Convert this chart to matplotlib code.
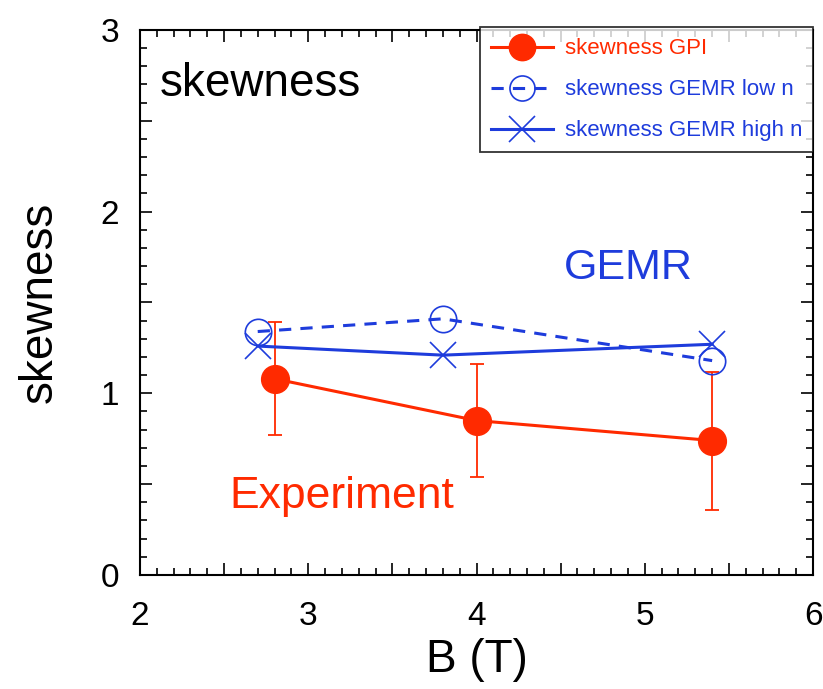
import matplotlib
matplotlib.use('Agg')
import matplotlib.pyplot as plt
from matplotlib.ticker import MultipleLocator, FuncFormatter

plt.rcParams['font.family'] = ['Liberation Sans', 'DejaVu Sans']

# data
B_gpi = [2.8, 4.0, 5.4]
skew_gpi = [1.08, 0.85, 0.74]
err_gpi = [0.31, 0.31, 0.38]

B_gemr = [2.7, 3.8, 5.4]
skew_low_n = [1.34, 1.41, 1.18]
skew_high_n = [1.26, 1.21, 1.27]

red = '#ff2a00'
blue = '#1e3cdc'

fig = plt.figure(figsize=(8.23, 6.89), dpi=100)
ax = fig.add_axes([0.170, 0.1655, 0.818, 0.791])

h1 = ax.errorbar(B_gpi, skew_gpi, yerr=err_gpi, color=red, lw=2.2, marker='o',
                 ms=20, mfc=red, mec=red, ecolor=red, elinewidth=1.3, capsize=5,
                 capthick=1.3, label='skewness GPI', zorder=3)
h2, = ax.plot(B_gemr, skew_low_n, color=blue, lw=2.2, ls=(0, (4, 3)), marker='o',
              ms=19, mfc='none', mec=blue, mew=1.2, label='skewness GEMR low n', zorder=4)
h3, = ax.plot(B_gemr, skew_high_n, color=blue, lw=2.2, marker='x', ms=19, mew=1.2,
              label='skewness GEMR high n', zorder=4)

ax.set_xlim(2, 6)
ax.set_ylim(0, 3)
ax.xaxis.set_major_locator(MultipleLocator(0.5))
ax.yaxis.set_major_locator(MultipleLocator(0.5))
ax.xaxis.set_minor_locator(MultipleLocator(0.1))
ax.yaxis.set_minor_locator(MultipleLocator(0.1))
fmt = FuncFormatter(lambda v, p: '%d' % v if abs(v - round(v)) < 1e-6 else '')
ax.xaxis.set_major_formatter(fmt)
ax.yaxis.set_major_formatter(fmt)
ax.tick_params(which='both', direction='in', top=True, right=True, width=1.2,
               labelsize=24)
ax.tick_params(axis='x', which='major', pad=19)
ax.tick_params(axis='y', which='major', pad=15)
ax.tick_params(which='major', length=8.5)
ax.tick_params(which='minor', length=5)
for s in ax.spines.values():
    s.set_linewidth(1.5)

ax.set_xlabel('B (T)', fontsize=33, labelpad=4)
ax.set_ylabel('skewness', fontsize=33, labelpad=28)

ax.text(2.12, 2.7, 'skewness', fontsize=33, va='center', ha='left')
ax.text(4.9, 1.69, 'GEMR', fontsize=31, color=blue, va='center', ha='center')
ax.text(3.2, 0.43, 'Experiment', fontsize=32, color=red, va='center', ha='center')

leg = ax.legend(handles=[h1[0], h2, h3],
                labels=['skewness GPI', 'skewness GEMR low n', 'skewness GEMR high n'],
                loc='upper right', bbox_to_anchor=(1.0, 1.005),
                fontsize=16, frameon=True, fancybox=False, borderaxespad=0,
                handlelength=2.8, labelspacing=0.9, markerscale=0.95,
                borderpad=0.5, handletextpad=0.5)
leg.get_frame().set_edgecolor('black')
leg.get_frame().set_linewidth(1.3)
for t, c in zip(leg.get_texts(), [red, blue, blue]):
    t.set_color(c)

fig.savefig('out.png', dpi=100)
